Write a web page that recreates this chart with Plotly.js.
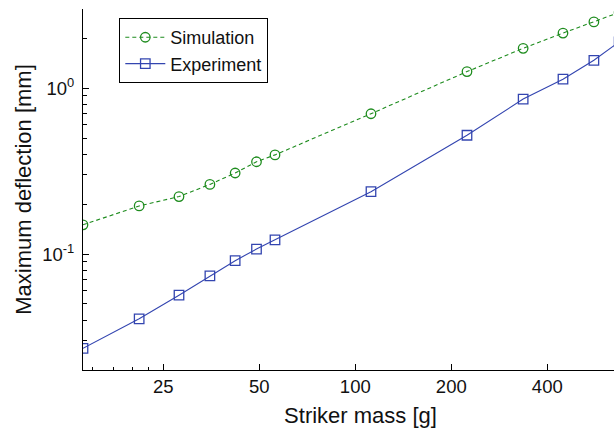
<!DOCTYPE html>
<html>
<head>
<meta charset="utf-8">
<script src="https://cdn.plot.ly/plotly-3.0.1.min.js"></script>
<style>
html, body { margin: 0; padding: 0; overflow: hidden; background: #fff; }
#wrap { width: 614px; height: 428px; overflow: hidden; }
#chart { width: 660px; height: 428px; }
</style>
</head>
<body>
<div id="wrap"><div id="chart"></div></div>
<script>
// Striker mass [g]
const strikerMass = [14, 21, 28, 35, 42, 49, 56, 112, 224, 336, 448, 560, 672];
// Maximum deflection [mm]
const simulation = [0.150, 0.195, 0.222, 0.263, 0.308, 0.360, 0.396, 0.701, 1.258, 1.738, 2.147, 2.509, 2.86];
const experiment = [0.0270, 0.0407, 0.0565, 0.0738, 0.0912, 0.1072, 0.1218, 0.2377, 0.520, 0.859, 1.132, 1.472, 1.90];

const xTickVals = [25, 50, 100, 200, 400];
const xTickText = ['25', '50', '100', '200', '400'];
const xMinorVals = [15, 17.5, 20, 22.5];
const yTickVals = [0.1, 1];
const yTickText = ['10<sup>-1</sup>', '10<sup>0</sup>'];
const yMinorVals = [0.02, 0.03, 0.04, 0.05, 0.06, 0.07, 0.08, 0.09,
                    0.2, 0.3, 0.4, 0.5, 0.6, 0.7, 0.8, 0.9, 2, 3];

const green = '#1e8c1e';
const blue = '#3345b0';
const font = 'Liberation Sans, Arial, Helvetica, sans-serif';

const traces = [
  {
    x: strikerMass, y: simulation, name: 'Simulation', type: 'scatter', mode: 'lines+markers',
    line: {color: green, width: 1.1, dash: '4px,3px'},
    marker: {symbol: 'circle-open', size: 9.5, color: green, line: {color: green, width: 1.3}},
    cliponaxis: true
  },
  {
    x: strikerMass, y: experiment, name: 'Experiment', type: 'scatter', mode: 'lines+markers',
    line: {color: blue, width: 1.1},
    marker: {symbol: 'square-open', size: 9.5, color: blue, line: {color: blue, width: 1.3}},
    cliponaxis: true
  }
];

const layout = {
  width: 660, height: 428,
  margin: {l: 83, r: 22, t: 9, b: 58},
  paper_bgcolor: '#fff', plot_bgcolor: '#fff',
  font: {family: font, color: '#111', size: 18},
  showlegend: true,
  legend: {
    x: 0.0654, y: 0.975, xanchor: 'left', yanchor: 'top',
    bordercolor: '#000', borderwidth: 1, bgcolor: '#fff',
    font: {family: font, size: 18, color: '#111'},
    itemwidth: 40,
    tracegroupgap: 0
  },
  xaxis: {
    type: 'log',
    range: [Math.log10(14), 2.8865],
    tickmode: 'array', tickvals: xTickVals, ticktext: xTickText,
    ticks: 'inside', ticklen: 6, tickwidth: 1, tickcolor: '#000',
    minor: {tickmode: 'array', tickvals: xMinorVals, ticks: 'inside', ticklen: 3, tickwidth: 1, tickcolor: '#000', showgrid: false},
    showline: true, linecolor: '#000', linewidth: 1, mirror: false,
    showgrid: false, zeroline: false,
    tickfont: {family: font, size: 18.5, color: '#111'},
    ticklabelstandoff: 0,
    title: {text: 'Striker mass [g]', font: {family: font, size: 22, color: '#111'}, standoff: 12},
    automargin: false
  },
  yaxis: {
    type: 'log',
    range: [Math.log10(0.02), Math.log10(3)],
    tickmode: 'array', tickvals: yTickVals, ticktext: yTickText,
    ticks: 'inside', ticklen: 6, tickwidth: 1, tickcolor: '#000',
    minor: {tickmode: 'array', tickvals: yMinorVals, ticks: 'inside', ticklen: 4, tickwidth: 1, tickcolor: '#000', showgrid: false},
    showline: true, linecolor: '#000', linewidth: 1, mirror: false,
    showgrid: false, zeroline: false,
    tickfont: {family: font, size: 18.5, color: '#111'},
    ticklabelstandoff: 4,
    title: {text: 'Maximum deflection [mm]', font: {family: font, size: 22, color: '#111'}, standoff: 4},
    automargin: false
  }
};

Plotly.newPlot('chart', traces, layout, {staticPlot: true, displayModeBar: false});
</script>
</body>
</html>
